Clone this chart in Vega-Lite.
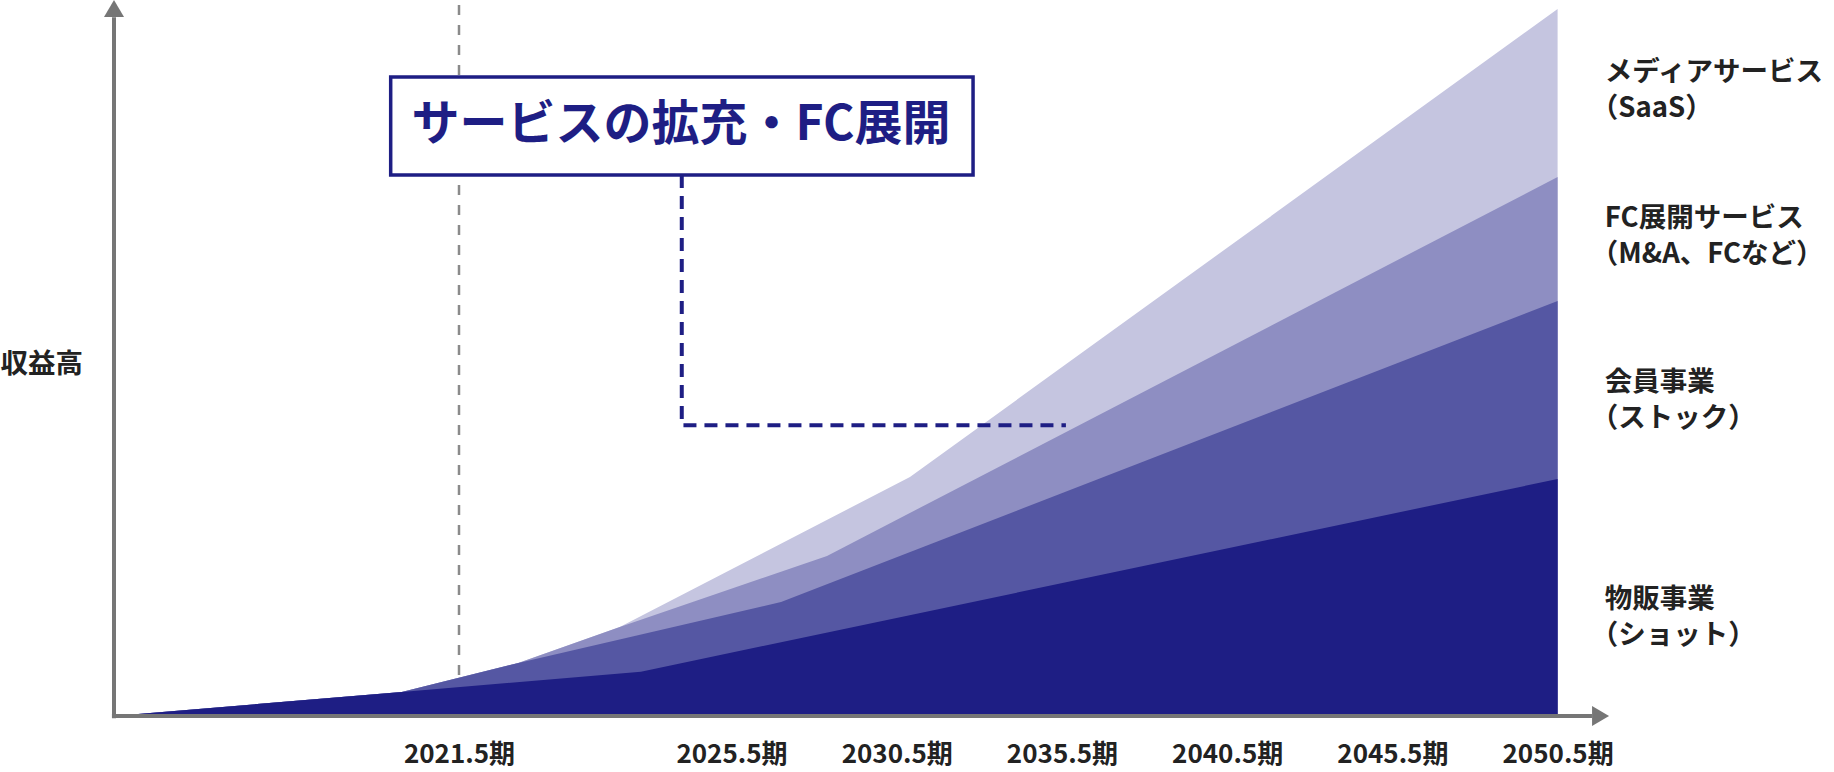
{
  "$schema": "https://vega.github.io/schema/vega-lite/v6.json",
  "width": 1497,
  "height": 716,
  "autosize": {"type": "none"},
  "padding": {"left": 114, "top": 0, "right": 223, "bottom": 56},
  "background": "white",
  "config": {"view": {"stroke": null}, "font": "Noto Sans CJK JP"},
  "datasets": {
    "layers": [
      {"series": "メディアサービス", "year": 2016.5, "v": 0},
      {"series": "メディアサービス", "year": 2020.67, "v": 3.35},
      {"series": "メディアサービス", "year": 2022.37, "v": 7.4},
      {"series": "メディアサービス", "year": 2023.86, "v": 12.43},
      {"series": "メディアサービス", "year": 2030.9, "v": 33.38},
      {"series": "メディアサービス", "year": 2050.5, "v": 98.74},
      {"series": "FC展開サービス", "year": 2016.5, "v": 0},
      {"series": "FC展開サービス", "year": 2020.67, "v": 3.35},
      {"series": "FC展開サービス", "year": 2022.37, "v": 7.4},
      {"series": "FC展開サービス", "year": 2023.86, "v": 12.43},
      {"series": "FC展開サービス", "year": 2028.39, "v": 22.35},
      {"series": "FC展開サービス", "year": 2050.5, "v": 75.28},
      {"series": "会員事業", "year": 2016.5, "v": 0},
      {"series": "会員事業", "year": 2020.67, "v": 3.35},
      {"series": "会員事業", "year": 2022.37, "v": 7.4},
      {"series": "会員事業", "year": 2027.0, "v": 15.92},
      {"series": "会員事業", "year": 2050.5, "v": 57.96},
      {"series": "物販事業", "year": 2016.5, "v": 0},
      {"series": "物販事業", "year": 2020.67, "v": 3.35},
      {"series": "物販事業", "year": 2024.17, "v": 6.19},
      {"series": "物販事業", "year": 2050.5, "v": 33.1}
    ],
    "labels": [
      {"name": "メディアサービス", "sub": "（SaaS）", "year": 2051.93, "v": 87.34},
      {"name": "FC展開サービス", "sub": "（M&A、FCなど）", "year": 2051.93, "v": 66.9},
      {"name": "会員事業", "sub": "（ストック）", "year": 2051.93, "v": 44.04},
      {"name": "物販事業", "sub": "（ショット）", "year": 2051.93, "v": 13.65}
    ]
  },
  "encoding": {
    "x": {
      "field": "year",
      "type": "quantitative",
      "scale": {"domain": [2016.5, 2021.5, 2025.5, 2050.5], "range": [0, 345, 617.5, 1443.6], "nice": false, "zero": false},
      "axis": {
        "values": [2021.5, 2025.5, 2030.5, 2035.5, 2040.5, 2045.5, 2050.5],
        "labelExpr": "format(datum.value, '.1f') + '期'",
        "domain": false, "ticks": false, "tickSize": 0, "grid": false, "title": null,
        "labelFont": "Noto Sans CJK JP", "labelFontSize": 26, "labelFontWeight": "bold",
        "labelColor": "#222222", "labelPadding": 38.5, "labelBaseline": "middle",
        "labelFlush": false, "labelOverlap": false, "labelBound": false
      }
    },
    "y": {
      "field": "v",
      "type": "quantitative",
      "scale": {"domain": [0, 100], "nice": false, "zero": true},
      "axis": {
        "domain": false, "ticks": false, "tickSize": 0, "labels": false, "grid": false,
        "title": "収益高", "titleAngle": 0, "titleAlign": "left", "titleBaseline": "middle",
        "titleX": -114, "titleY": 364.5, "titleFont": "Noto Sans CJK JP",
        "titleFontSize": 27.5, "titleFontWeight": "bold", "titleColor": "#222222"
      }
    }
  },
  "layer": [
    {
      "data": {"values": [{"year": 2021.5, "v": 99.3, "v2": 0}]},
      "mark": {"type": "rule", "color": "#8a8a8a", "strokeWidth": 2.5, "strokeDash": [10, 10]},
      "encoding": {"y2": {"field": "v2"}}
    },
    {
      "data": {"name": "layers"},
      "transform": [{"filter": "datum.series === 'メディアサービス'"}],
      "mark": {"type": "area", "color": "#c5c5e0", "opacity": 1}
    },
    {
      "data": {"name": "layers"},
      "transform": [{"filter": "datum.series === 'FC展開サービス'"}],
      "mark": {"type": "area", "color": "#8e8ec2", "opacity": 1}
    },
    {
      "data": {"name": "layers"},
      "transform": [{"filter": "datum.series === '会員事業'"}],
      "mark": {"type": "area", "color": "#5557a3", "opacity": 1}
    },
    {
      "data": {"name": "layers"},
      "transform": [{"filter": "datum.series === '物販事業'"}],
      "mark": {"type": "area", "color": "#1e1e84", "opacity": 1}
    },
    {
      "data": {"values": [{"year": 2020.51, "year2": 2032.81, "v": 89.25, "v2": 75.56}]},
      "mark": {"type": "rect", "fill": "white", "stroke": "#1e1e84", "strokeWidth": 3.5},
      "encoding": {"x2": {"field": "year2"}, "y2": {"field": "v2"}}
    },
    {
      "data": {"values": [{"year": 2024.76, "v": 82.4, "t": "サービスの拡充・FC展開"}]},
      "mark": {"type": "text", "font": "Noto Sans CJK JP", "fontSize": 48, "fontWeight": "bold", "color": "#1e1e84", "align": "center", "baseline": "middle"},
      "encoding": {"text": {"field": "t"}}
    },
    {
      "data": {"values": [
        {"o": 1, "year": 2024.77, "v": 75.56},
        {"o": 2, "year": 2024.77, "v": 40.6},
        {"o": 3, "year": 2035.62, "v": 40.6}
      ]},
      "mark": {"type": "line", "color": "#1e1e84", "strokeWidth": 4, "strokeDash": [13, 8], "strokeCap": "butt"},
      "encoding": {"order": {"field": "o", "type": "quantitative"}}
    },
    {
      "data": {"values": [{"year": 2016.5, "v": -0.3, "v2": 97.6}]},
      "mark": {"type": "rule", "color": "#767676", "strokeWidth": 4},
      "encoding": {"y2": {"field": "v2"}}
    },
    {
      "data": {"values": [{"year": 2016.47, "year2": 2051.54, "v": 0}]},
      "mark": {"type": "rule", "color": "#767676", "strokeWidth": 4},
      "encoding": {"x2": {"field": "year2"}}
    },
    {
      "data": {"values": [{"year": 2016.5, "v": 98.81}]},
      "mark": {"type": "point", "shape": "M0,-0.85L1,0.85L-1,0.85Z", "size": 400, "filled": true, "color": "#767676", "opacity": 1, "strokeWidth": 0}
    },
    {
      "data": {"values": [{"year": 2051.8, "v": 0}]},
      "mark": {"type": "point", "shape": "M0.85,0L-0.85,1L-0.85,-1Z", "size": 400, "filled": true, "color": "#767676", "opacity": 1, "strokeWidth": 0}
    },
    {
      "data": {"name": "labels"},
      "mark": {"type": "text", "font": "Noto Sans CJK JP", "fontSize": 27.5, "fontWeight": "bold", "color": "#222222", "align": "left", "baseline": "middle", "dy": -18},
      "encoding": {"text": {"field": "name"}}
    },
    {
      "data": {"name": "labels"},
      "mark": {"type": "text", "font": "Noto Sans CJK JP", "fontSize": 27.5, "fontWeight": "bold", "color": "#222222", "align": "left", "baseline": "middle", "dy": 18, "dx": -14},
      "encoding": {"text": {"field": "sub"}}
    }
  ]
}
